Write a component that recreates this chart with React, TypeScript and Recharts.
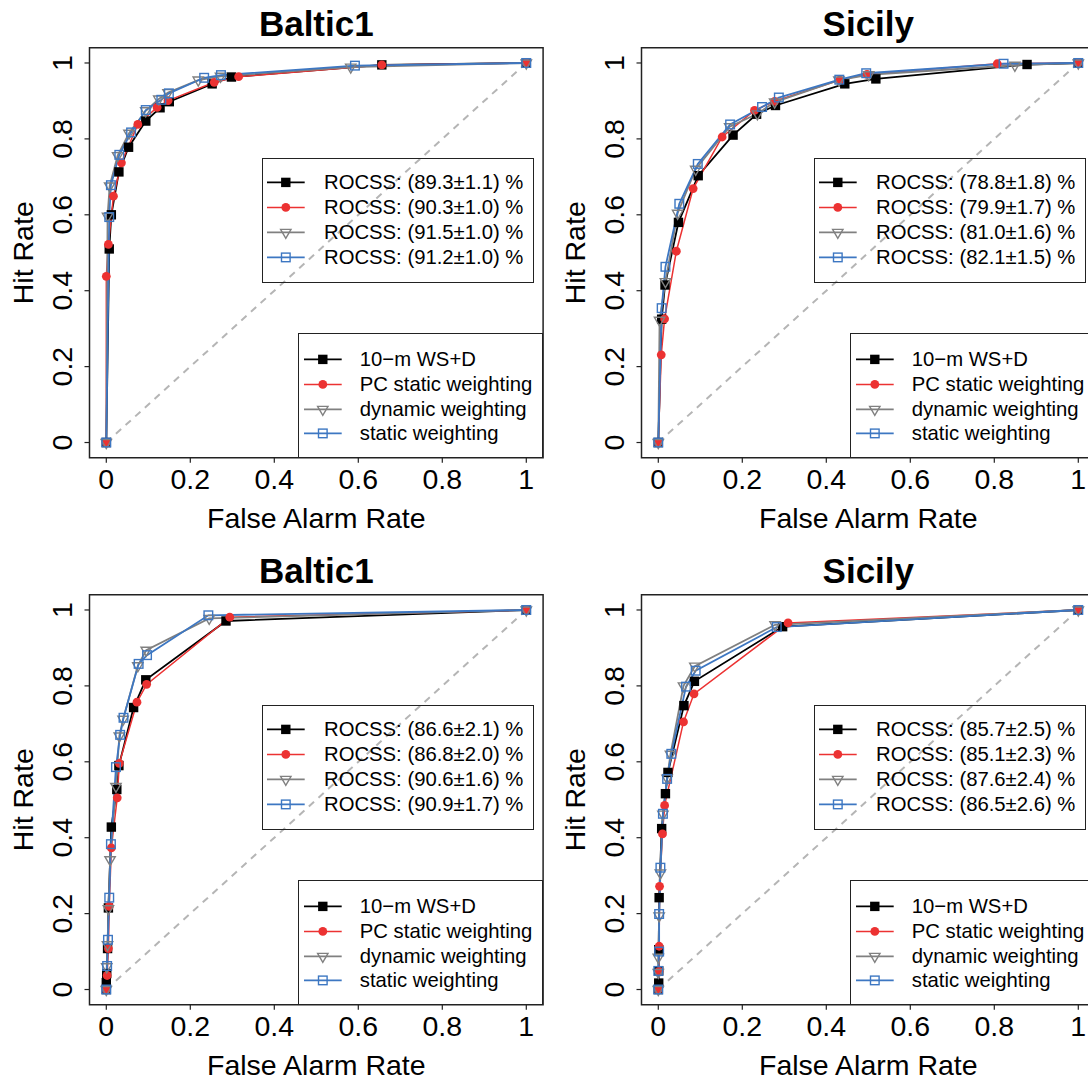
import React from "react";
import { LineChart, Line, XAxis, YAxis, ReferenceLine, ReferenceArea } from "recharts";

type Pt = [number, number];

// ---- Baltic1, top row ----
const balticTopWsd: Pt[] = [[0, 0], [0.007, 0.51], [0.012, 0.6], [0.03, 0.713], [0.053, 0.778], [0.094, 0.847], [0.128, 0.882], [0.15, 0.898], [0.252, 0.945], [0.298, 0.963], [0.656, 0.995], [1, 1]];
const balticTopPc: Pt[] = [[0, 0], [0, 0.438], [0.005, 0.522], [0.017, 0.649], [0.036, 0.737], [0.075, 0.838], [0.121, 0.883], [0.147, 0.901], [0.257, 0.949], [0.315, 0.964], [0.656, 0.995], [1, 1]];
const balticTopDyn: Pt[] = [[0, 0], [0.003, 0.596], [0.008, 0.676], [0.027, 0.756], [0.054, 0.815], [0.094, 0.874], [0.125, 0.905], [0.147, 0.922], [0.219, 0.955], [0.272, 0.965], [0.582, 0.989], [1, 1]];
const balticTopStatic: Pt[] = [[0, 0], [0.007, 0.594], [0.011, 0.678], [0.031, 0.758], [0.059, 0.817], [0.094, 0.876], [0.131, 0.903], [0.149, 0.92], [0.233, 0.961], [0.273, 0.968], [0.592, 0.993], [1, 1]];
const balticTopRocss = ["(89.3±1.1)", "(90.3±1.0)", "(91.5±1.0)", "(91.2±1.0)"];

// ---- Sicily, top row ----
const sicilyTopWsd: Pt[] = [[0, 0], [0.008, 0.325], [0.016, 0.415], [0.048, 0.58], [0.095, 0.703], [0.178, 0.81], [0.234, 0.865], [0.279, 0.888], [0.444, 0.945], [0.518, 0.958], [0.878, 0.996], [1, 1]];
const sicilyTopPc: Pt[] = [[0, 0], [0.007, 0.231], [0.015, 0.326], [0.043, 0.504], [0.083, 0.669], [0.152, 0.805], [0.229, 0.875], [0.277, 0.899], [0.432, 0.955], [0.497, 0.97], [0.807, 0.998], [1, 1]];
const sicilyTopDyn: Pt[] = [[0, 0], [0.003, 0.322], [0.017, 0.424], [0.046, 0.604], [0.089, 0.72], [0.17, 0.832], [0.236, 0.866], [0.277, 0.897], [0.43, 0.955], [0.501, 0.969], [0.849, 0.994], [1, 1]];
const sicilyTopStatic: Pt[] = [[0, 0], [0.008, 0.354], [0.017, 0.463], [0.05, 0.629], [0.094, 0.734], [0.171, 0.838], [0.247, 0.884], [0.287, 0.909], [0.431, 0.956], [0.495, 0.973], [0.822, 0.998], [1, 1]];
const sicilyTopRocss = ["(78.8±1.8)", "(79.9±1.7)", "(81.0±1.6)", "(82.1±1.5)"];

// ---- Baltic1, bottom row ----
const balticBotWsd: Pt[] = [[0, 0], [0, 0.018], [0.001, 0.042], [0.003, 0.108], [0.005, 0.215], [0.012, 0.428], [0.025, 0.527], [0.03, 0.59], [0.065, 0.743], [0.094, 0.816], [0.285, 0.971], [1, 1]];
const balticBotPc: Pt[] = [[0, 0], [0.002, 0.037], [0.005, 0.108], [0.007, 0.219], [0.012, 0.373], [0.026, 0.505], [0.031, 0.596], [0.073, 0.757], [0.096, 0.804], [0.294, 0.981], [1, 1]];
const balticBotDyn: Pt[] = [[0, 0], [0.001, 0.06], [0.003, 0.118], [0.005, 0.213], [0.009, 0.342], [0.023, 0.535], [0.031, 0.668], [0.04, 0.712], [0.075, 0.853], [0.095, 0.894], [0.245, 0.978], [1, 1]];
const balticBotStatic: Pt[] = [[0, 0], [0.002, 0.062], [0.004, 0.131], [0.007, 0.242], [0.011, 0.383], [0.023, 0.586], [0.033, 0.671], [0.041, 0.716], [0.077, 0.858], [0.097, 0.881], [0.243, 0.986], [1, 1]];
const balticBotRocss = ["(86.6±2.1)", "(86.8±2.0)", "(90.6±1.6)", "(90.9±1.7)"];

// ---- Sicily, bottom row ----
const sicilyBotWsd: Pt[] = [[0, 0], [0.001, 0.017], [0.001, 0.049], [0.001, 0.105], [0.002, 0.242], [0.008, 0.424], [0.017, 0.516], [0.023, 0.572], [0.061, 0.748], [0.086, 0.812], [0.296, 0.956], [1, 1]];
const sicilyBotPc: Pt[] = [[0, 0], [0.002, 0.048], [0.002, 0.114], [0.003, 0.272], [0.01, 0.41], [0.015, 0.485], [0.06, 0.705], [0.085, 0.779], [0.309, 0.966], [1, 1]];
const sicilyBotDyn: Pt[] = [[0, 0], [0, 0.045], [0, 0.085], [0.002, 0.194], [0.005, 0.307], [0.011, 0.462], [0.021, 0.557], [0.029, 0.62], [0.06, 0.8], [0.087, 0.852], [0.278, 0.961], [1, 1]];
const sicilyBotStatic: Pt[] = [[0, 0], [0, 0.049], [0.002, 0.1], [0.002, 0.199], [0.005, 0.321], [0.011, 0.463], [0.021, 0.555], [0.031, 0.621], [0.066, 0.798], [0.089, 0.84], [0.282, 0.955], [1, 1]];
const sicilyBotRocss = ["(85.7±2.5)", "(85.1±2.3)", "(87.6±2.4)", "(86.5±2.6)"];

const seriesNames = ["10\u2212m WS+D", "PC static weighting", "dynamic weighting", "static weighting"];
const axisTicks = [0, 0.2, 0.4, 0.6, 0.8, 1];

const FONT = '"Liberation Sans", Arial, Helvetica, sans-serif';

// panel geometry (px, relative to each panel)
const W = 552;
const H = 547;
const PLOT_L = 89.5;
const PLOT_R = 543.1;
const PLOT_T = 47.8;
const PLOT_B = 457.7;
const CX = (PLOT_L + PLOT_R) / 2;
const CY = (PLOT_T + PLOT_B) / 2;

const STYLES = [
  { color: "#000000", width: 1.8, marker: "fsquare" },
  { color: "#EC3232", width: 1.5, marker: "fcircle" },
  { color: "#808080", width: 1.8, marker: "otri" },
  { color: "#3D77C2", width: 1.8, marker: "osquare" },
];

const panels = [
  { title: "Baltic1", left: 0, top: 0, series: [balticTopWsd, balticTopPc, balticTopDyn, balticTopStatic], rocss: balticTopRocss },
  { title: "Sicily", left: 552, top: 0, series: [sicilyTopWsd, sicilyTopPc, sicilyTopDyn, sicilyTopStatic], rocss: sicilyTopRocss },
  { title: "Baltic1", left: 0, top: 547, series: [balticBotWsd, balticBotPc, balticBotDyn, balticBotStatic], rocss: balticBotRocss },
  { title: "Sicily", left: 552, top: 547, series: [sicilyBotWsd, sicilyBotPc, sicilyBotDyn, sicilyBotStatic], rocss: sicilyBotRocss },
];

function Marker({ kind, cx, cy, color }: { kind: string; cx: number; cy: number; color: string }) {
  if (kind === "fsquare") return <rect x={cx - 4.7} y={cy - 4.7} width={9.4} height={9.4} fill={color} />;
  if (kind === "fcircle") return <circle cx={cx} cy={cy} r={4.4} fill={color} />;
  if (kind === "otri")
    return (
      <polygon
        points={`${cx - 5.2},${cy - 3} ${cx + 5.2},${cy - 3} ${cx},${cy + 6}`}
        fill="none"
        stroke={color}
        strokeWidth={1.4}
      />
    );
  return <rect x={cx - 4.3} y={cy - 4.3} width={8.6} height={8.6} fill="none" stroke={color} strokeWidth={1.4} />;
}

const fmt = (v: number) => String(v);

const XTick = (props: any) => (
  <text x={props.x} y={PLOT_B + 31.6} textAnchor="middle" fontSize={28.5} fontFamily={FONT} fill="#000">
    {fmt(props.payload.value)}
  </text>
);

const YTick = (props: any) => (
  <text
    x={72.3}
    y={props.y}
    transform={`rotate(-90 72.3 ${props.y})`}
    textAnchor="middle"
    fontSize={28.5}
    fontFamily={FONT}
    fill="#000"
  >
    {fmt(props.payload.value)}
  </text>
);

function LegendRow({ y, glyphL, textL, idx, label }: { y: number; glyphL: number; textL: number; idx: number; label: string }) {
  const s = STYLES[idx];
  return (
    <>
      <svg style={{ position: "absolute", left: glyphL, top: y - 12.4, overflow: "visible" }} width={38} height={24.8}>
        <line x1={0} x2={37.7} y1={12.4} y2={12.4} stroke={s.color} strokeWidth={s.width} />
        <Marker kind={s.marker} cx={18.8} cy={12.4} color={s.color} />
      </svg>
      <div
        style={{
          position: "absolute",
          left: textL,
          top: y - 12.4,
          height: 24.8,
          lineHeight: "24.8px",
          fontSize: 20.3,
          fontFamily: FONT,
          whiteSpace: "nowrap",
          color: "#000",
        }}
      >
        {label}
      </div>
    </>
  );
}

function Panel({ p }: { p: (typeof panels)[number] }) {
  return (
    <div style={{ position: "absolute", left: p.left, top: p.top, width: W, height: H }}>
      <LineChart width={W} height={H} margin={{ top: PLOT_T, right: W - PLOT_R, left: 0, bottom: 0 }}>
        <XAxis
          type="number"
          dataKey="x"
          domain={[-0.04, 1.04]}
          allowDataOverflow
          ticks={axisTicks}
          interval={0}
          height={H - PLOT_B}
          axisLine={false}
          tickSize={5}
          tickLine={{ stroke: "#222", strokeWidth: 1.2 }}
          tick={<XTick />}
          label={() => (
            <g>
              <text x={CX} y={527.7} textAnchor="middle" fontSize={28.5} fontFamily={FONT} fill="#000">
                False Alarm Rate
              </text>
              <text x={CX} y={36} textAnchor="middle" fontSize={35} fontWeight="bold" fontFamily={FONT} fill="#000">
                {p.title}
              </text>
            </g>
          )}
        />
        <YAxis
          type="number"
          domain={[-0.04, 1.04]}
          allowDataOverflow
          ticks={axisTicks}
          interval={0}
          width={PLOT_L}
          axisLine={false}
          tickSize={5}
          tickLine={{ stroke: "#222", strokeWidth: 1.2 }}
          tick={<YTick />}
          label={() => (
            <text x={33} y={CY} transform={`rotate(-90 33 ${CY})`} textAnchor="middle" fontSize={28.5} fontFamily={FONT} fill="#000">
              Hit Rate
            </text>
          )}
        />
        <ReferenceArea x1={-0.04} x2={1.04} y1={-0.04} y2={1.04} fill="none" stroke="#222" strokeWidth={1.5} ifOverflow="visible" />
        <ReferenceLine
          segment={[{ x: 0, y: 0 }, { x: 1, y: 1 }]}
          stroke="#B5B5B5"
          strokeWidth={2}
          strokeDasharray="7 6"
          ifOverflow="visible"
        />
        {p.series.map((pts, i) => {
          const s = STYLES[i];
          return (
            <Line
              key={i}
              data={pts.map(([x, y]) => ({ x, y }))}
              dataKey="y"
              type="linear"
              stroke={s.color}
              strokeWidth={s.width}
              isAnimationActive={false}
              activeDot={false}
              dot={(d: any) => <Marker key={`m${i}-${d.index}`} kind={s.marker} cx={d.cx} cy={d.cy} color={s.color} />}
            />
          );
        })}
      </LineChart>

      {/* ROCSS legend */}
      <div
        style={{
          position: "absolute",
          left: 261.7,
          top: 158.3,
          width: 272.6,
          height: 124.5,
          border: "1.5px solid #222",
          boxSizing: "border-box",
        }}
      />
      {p.rocss.map((r, i) => (
        <LegendRow key={`r${i}`} y={182.7 + i * 24.8} glyphL={267.3} textL={324} idx={i} label={`ROCSS: ${r} %`} />
      ))}

      {/* series legend */}
      <div
        style={{
          position: "absolute",
          left: 297.7,
          top: 333.4,
          width: PLOT_R - 297.7,
          height: PLOT_B - 333.4,
          border: "1.5px solid #222",
          boxSizing: "border-box",
        }}
      />
      {seriesNames.map((n, i) => (
        <LegendRow key={`n${i}`} y={359.3 + i * 24.8} glyphL={303.6} textL={359.8} idx={i} label={n} />
      ))}
    </div>
  );
}

export default function App() {
  return (
    <div
      style={{
        position: "absolute",
        left: 0,
        top: 0,
        width: 1088,
        height: 1079,
        overflow: "hidden",
        background: "#fff",
      }}
    >
      {panels.map((p, i) => (
        <Panel key={i} p={p} />
      ))}
    </div>
  );
}
